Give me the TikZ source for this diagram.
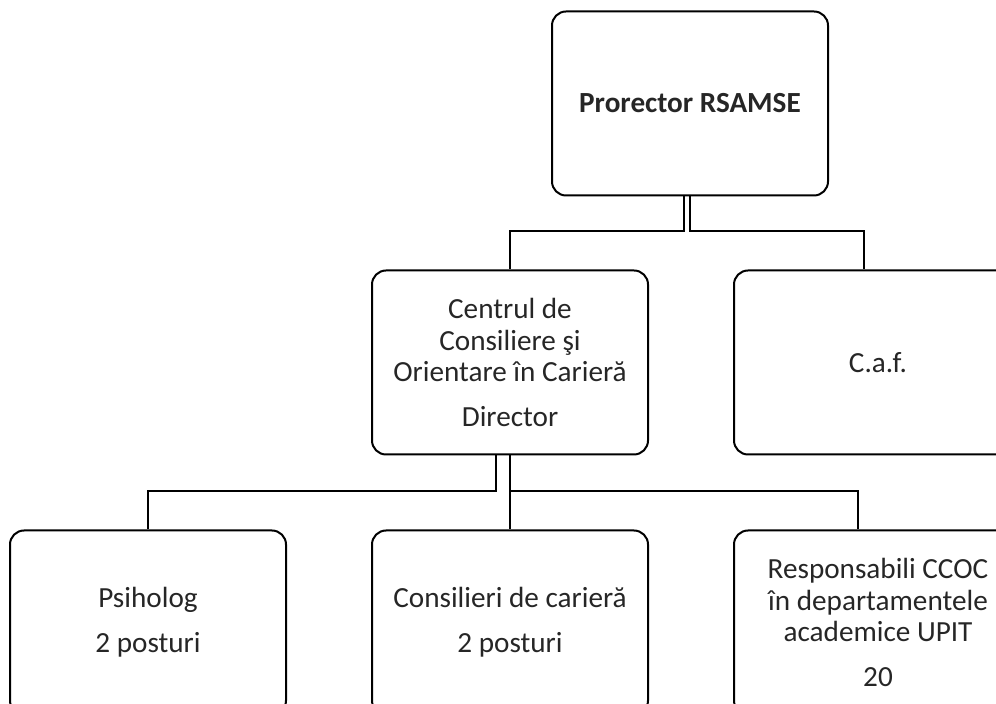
\documentclass[tikz,border=0pt]{standalone}
\usepackage{fontspec}
\setmainfont{Carlito}
\usetikzlibrary{positioning}

\begin{document}
\begin{tikzpicture}[x=0.5pt, y=-0.5pt, node distance=36.5pt and 42pt,
    caseta/.style={draw, rounded corners=7pt, line width=1pt, minimum width=138pt,
      minimum height=92pt, align=center, text=black!85,
      font=\fontsize{14.6pt}{15.8pt}\selectfont},
    legatura/.style={line width=1pt}]
    \clip (0,0) rectangle (996,704);
    % Conducere
    \node[caseta, font=\fontsize{14.6pt}{15.8pt}\selectfont\bfseries] (prorector) at (690,103.5) {Prorector RSAMSE};
    % Nivelul al doilea
    \node[caseta, below=of prorector, xshift=-90pt] (centru) {Centrul de\\ Consiliere şi\\ Orientare în Carieră\\[6.5pt] Director};
    \node[caseta, right=of centru, minimum width=144pt] (caf) {C.a.f.};
    % Nivelul al treilea
    \node[caseta, below=37pt of centru] (consilieri) {Consilieri de carieră\\[6.5pt] 2 posturi};
    \node[caseta, left=of consilieri] (psiholog) {Psiholog\\[6.5pt] 2 posturi};
    \node[caseta, right=of consilieri, minimum width=144pt] (responsabili) {Responsabili CCOC\\ în departamentele\\ academice UPIT\\[6.5pt] 20};
    % Legaturi
    \draw[legatura] ([xshift=-3pt]prorector.south) -- ++(0,-17.5pt) -| (centru.north);
    \draw[legatura] (prorector.south) -- ++(0,-17.5pt) -| ([xshift=-7pt]caf.north);
    \draw[legatura] ([xshift=-7pt]centru.south) -- ++(0,-18pt) -| (psiholog.north);
    \draw[legatura] (centru.south) -- (consilieri.north);
    \draw[legatura] (centru.south) -- ++(0,-18pt) -| ([xshift=-10pt]responsabili.north);
\end{tikzpicture}
\end{document}
